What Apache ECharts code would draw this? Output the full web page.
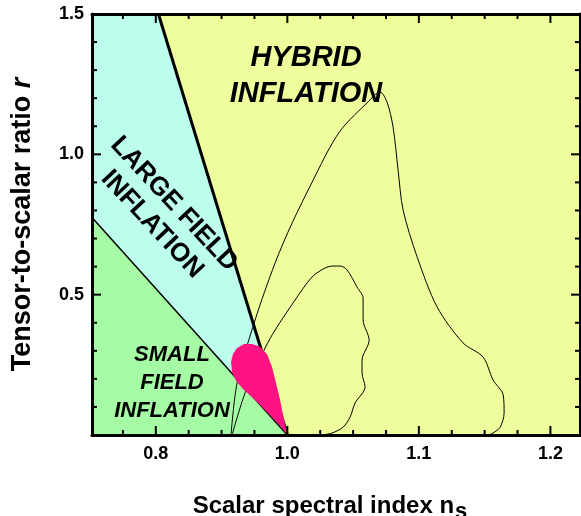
<!DOCTYPE html>
<html>
<head>
<meta charset="utf-8">
<script src="https://cdn.jsdelivr.net/npm/echarts@6/dist/echarts.min.js"></script>
<style>
  html, body { margin: 0; padding: 0; background: #fff; }
  #chart { width: 581px; height: 516px; }
</style>
</head>
<body>
<div id="chart"></div>
<script>
  // axis ranges (plot units as drawn on the page)
  var xMin = 0.8515, xMax = 1.2225;
  var yMin = 0, yMax = 1.5;

  // tick positions and their printed labels (the figure prints "0.8" at this tick)
  var xMajorTicks = [0.9, 1.0, 1.1, 1.2];
  var xTickLabels = ['0.8', '1.0', '1.1', '1.2'];
  var xMinorTicks = [0.875, 0.925, 0.95, 0.975, 1.025, 1.05, 1.075, 1.125, 1.15, 1.175];
  var yMajorTicks = [0.5, 1.0, 1.5];
  var yTickLabels = ['0.5', '1.0', '1.5'];
  var yMinorTicks = [0.1, 0.2, 0.3, 0.4, 0.6, 0.7, 0.8, 0.9, 1.1, 1.2, 1.3, 1.4];

  // region boundaries [n_s, r]
  var smallFieldLine = [[0.8515, 0.775], [1.0, 0]];
  var largeFieldLine = [[0.902, 1.5], [1.0, 0]];
  var smallFieldRegion = [[0.8515, 0], [0.8515, 0.775], [1.0, 0]];
  var largeFieldRegion = [[0.8515, 0.775], [0.8515, 1.5], [0.902, 1.5], [1.0, 0]];

  // likelihood contours
  var outerContour = [
    [0.9572, 0], [0.9618, 0.185], [0.9755, 0.41], [0.9907, 0.613], [1.0036, 0.755],
    [1.0196, 0.908], [1.0325, 1.026], [1.0424, 1.097], [1.0606, 1.183], [1.0705, 1.222],
    [1.0758, 1.186], [1.0804, 1.097], [1.0842, 0.944], [1.088, 0.802], [1.0987, 0.634],
    [1.1139, 0.456], [1.1336, 0.328], [1.1488, 0.278], [1.1564, 0.196], [1.1641, 0.143],
    [1.1648, 0.078], [1.1618, 0.028], [1.1564, 0.007], [1.1527, 0]
  ];
  var innerContour = [
    [0.958, 0], [0.9679, 0.15], [0.9831, 0.31], [0.9907, 0.374], [1.0059, 0.481],
    [1.0188, 0.563], [1.0287, 0.595], [1.0348, 0.602], [1.0401, 0.602], [1.0454, 0.588],
    [1.053, 0.527], [1.0576, 0.488], [1.0576, 0.41], [1.0622, 0.338], [1.0568, 0.267],
    [1.0568, 0.221], [1.0591, 0.171], [1.0515, 0.114], [1.0477, 0.064], [1.0424, 0.028],
    [1.034, 0.007], [1.0264, 0]
  ];

  // pink teardrop
  var pinkRegion = [
    [1.0, 0], [0.9975, 0.053], [0.9945, 0.125], [0.9914, 0.185], [0.9884, 0.242],
    [0.9846, 0.288], [0.9793, 0.314], [0.9732, 0.324], [0.9671, 0.324], [0.9618, 0.31],
    [0.9587, 0.289], [0.9572, 0.26], [0.958, 0.224], [0.961, 0.192], [0.9663, 0.164],
    [0.9755, 0.125], [0.9853, 0.078], [0.9945, 0.032]
  ];

  // region names and where they sit
  var regionNames = ['HYBRID\nINFLATION', 'LARGE FIELD\nINFLATION', 'SMALL\nFIELD\nINFLATION'];
  var regionLabelPos = [[1.0142, 1.279], [0.9055, 0.787], [0.9123, 0.185]];

  var font = '"Liberation Sans", Arial, Helvetica, sans-serif';
  var black = '#000';

  function polygon(pts, color, z) {
    return {
      type: 'custom',
      coordinateSystem: 'cartesian2d',
      silent: true,
      z: z,
      data: [pts[0]],
      renderItem: function (params, api) {
        return {
          type: 'polygon',
          shape: { points: pts.map(function (p) { return api.coord(p); }) },
          style: { fill: color }
        };
      }
    };
  }

  function line(pts, width, z, smooth) {
    return {
      type: 'line',
      data: pts,
      symbol: 'none',
      silent: true,
      smooth: smooth || false,
      z: z,
      lineStyle: { color: black, width: width }
    };
  }

  // inward ticks on all four sides of the frame, placed through the axis scales
  function xTicks(values, len) {
    return {
      type: 'custom',
      coordinateSystem: 'cartesian2d',
      silent: true,
      clip: false,
      z: 40,
      data: values.map(function (v) { return [v, yMin]; }),
      renderItem: function (params, api) {
        var v = api.value(0);
        var b = api.coord([v, yMin]);
        var t = api.coord([v, yMax]);
        return {
          type: 'group',
          children: [
            { type: 'rect', shape: { x: b[0] - 1, y: b[1] - len, width: 2, height: len }, style: { fill: black } },
            { type: 'rect', shape: { x: t[0] - 1, y: t[1], width: 2, height: len }, style: { fill: black } }
          ]
        };
      }
    };
  }

  function yTicks(values, len) {
    return {
      type: 'custom',
      coordinateSystem: 'cartesian2d',
      silent: true,
      clip: false,
      z: 40,
      data: values.map(function (v) { return [xMin, v]; }),
      renderItem: function (params, api) {
        var v = api.value(1);
        var l = api.coord([xMin, v]);
        var r = api.coord([xMax, v]);
        return {
          type: 'group',
          children: [
            { type: 'rect', shape: { x: l[0], y: l[1] - 1, width: len, height: 2 }, style: { fill: black } },
            { type: 'rect', shape: { x: r[0] - len, y: r[1] - 1, width: len, height: 2 }, style: { fill: black } }
          ]
        };
      }
    };
  }

  function xAxisOf(pos) {
    return {
      type: 'value',
      position: pos,
      min: xMin,
      max: xMax,
      z: 30,
      axisLine: { show: true, onZero: false, lineStyle: { color: black, width: 3 } },
      axisTick: { show: false },
      axisLabel: {
        show: pos === 'bottom',
        customValues: xMajorTicks,
        margin: 10,
        color: black,
        fontFamily: font,
        fontWeight: 'bold',
        fontSize: 18,
        formatter: function (v) {
          var i = xMajorTicks.findIndex(function (t) { return Math.abs(t - v) < 1e-6; });
          return i >= 0 ? xTickLabels[i] : '';
        }
      },
      splitLine: { show: false }
    };
  }

  function yAxisOf(pos) {
    return {
      type: 'value',
      position: pos,
      min: yMin,
      max: yMax,
      interval: 0.5,
      z: 30,
      axisLine: { show: true, onZero: false, lineStyle: { color: black, width: 3 } },
      axisTick: { show: false },
      axisLabel: {
        show: pos === 'left',
        customValues: yMajorTicks,
        margin: 8,
        color: black,
        fontFamily: font,
        fontWeight: 'bold',
        fontSize: 18,
        formatter: function (v) {
          var i = yMajorTicks.findIndex(function (t) { return Math.abs(t - v) < 1e-6; });
          return i >= 0 ? yTickLabels[i] : '';
        }
      },
      splitLine: { show: false }
    };
  }

  var xBottom = xAxisOf('bottom');
  xBottom.name = '{a|Scalar spectral index n}{s|s}';
  xBottom.nameLocation = 'middle';
  xBottom.nameGap = 54;
  xBottom.nameTextStyle = {
    color: black,
    rich: {
      a: { fontFamily: font, fontWeight: 'bold', fontSize: 24, color: black },
      s: { fontFamily: font, fontWeight: 'bold', fontSize: 22, color: black, padding: [12, 12, 0, 1] }
    }
  };

  var yLeft = yAxisOf('left');
  yLeft.name = '{a|Tensor-to-scalar ratio }{i|r}';
  yLeft.nameLocation = 'middle';
  yLeft.nameRotate = 90;
  yLeft.nameGap = 56;
  yLeft.nameTextStyle = {
    color: black,
    rich: {
      a: { fontFamily: font, fontWeight: 'bold', fontSize: 27, color: black },
      i: { fontFamily: font, fontWeight: 'bold', fontStyle: 'italic', fontSize: 27, color: black }
    }
  };

  var labelStyles = [
    { fontSize: 29, lineHeight: 36, fontStyle: 'italic', rotate: 0 },
    { fontSize: 26, lineHeight: 30, fontStyle: 'normal', rotate: -47 },
    { fontSize: 22, lineHeight: 28, fontStyle: 'italic', rotate: 0 }
  ];

  var labelSeries = {
    type: 'scatter',
    symbolSize: 0,
    silent: true,
    z: 20,
    itemStyle: { opacity: 1 },
    data: regionNames.map(function (name, i) {
      var s = labelStyles[i];
      return {
        value: regionLabelPos[i],
        label: {
          show: true,
          position: 'inside',
          formatter: name,
          align: 'center',
          verticalAlign: 'middle',
          color: black,
          fontFamily: font,
          fontWeight: 'bold',
          fontStyle: s.fontStyle,
          fontSize: s.fontSize,
          lineHeight: s.lineHeight,
          rotate: s.rotate
        }
      };
    })
  };

  var chart = echarts.init(document.getElementById('chart'), null, { renderer: 'canvas' });
  chart.setOption({
    animation: false,
    backgroundColor: '#fff',
    grid: {
      left: 92, right: 1, top: 14, bottom: 81,
      outerBoundsMode: 'none',
      show: true, backgroundColor: '#eefe9c', borderWidth: 0
    },
    xAxis: [xBottom, xAxisOf('top')],
    yAxis: [yLeft, yAxisOf('right')],
    series: [
      polygon(smallFieldRegion, '#a6fca4', 1),
      polygon(largeFieldRegion, '#bcfdee', 1),
      line(outerContour, 1, 3, 0.3),
      line(innerContour, 1, 3, 0.3),
      line(smallFieldLine, 1.5, 4),
      line(largeFieldLine, 3, 4),
      polygon(pinkRegion, '#fd1381', 6),
      xTicks(xMajorTicks, 9),
      xTicks(xMinorTicks, 5),
      yTicks(yMajorTicks, 9),
      yTicks(yMinorTicks, 5),
      labelSeries
    ]
  });
</script>
</body>
</html>
